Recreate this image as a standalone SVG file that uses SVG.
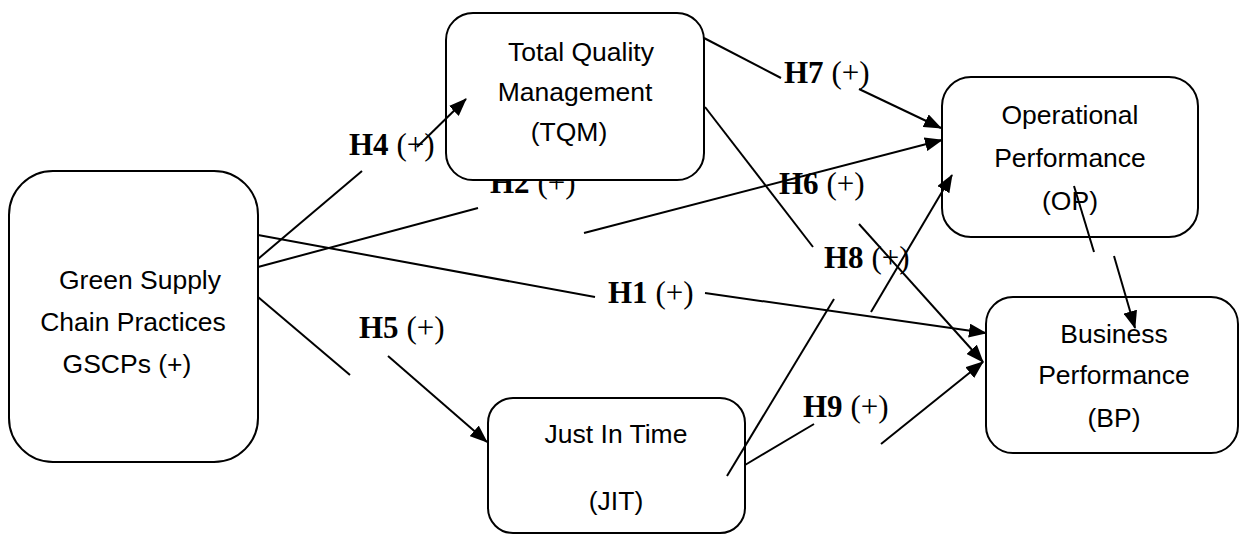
<svg xmlns="http://www.w3.org/2000/svg" width="1241" height="534" viewBox="0 0 1241 534">
<style>
.box{fill:#fff;stroke:#000;stroke-width:2}
.nt{font-family:"Liberation Sans",Arial,sans-serif;font-size:26.5px;fill:#000;text-anchor:middle}
.lb{font-family:"Liberation Serif","Times New Roman",serif;font-size:31px;fill:#000}
.lb .b{font-weight:bold}
.ln{stroke:#000;stroke-width:2;fill:none}
.ar{marker-end:url(#ah)}
</style>
<defs>
<marker id="ah" markerUnits="userSpaceOnUse" markerWidth="18" markerHeight="14" refX="17" refY="7" orient="auto">
<path d="M0,0 L18,7 L0,14 z" fill="#000"/>
</marker>
</defs>
<rect width="1241" height="534" fill="#fff"/>
<g id="labels">
<text class="lb" x="349" y="155"><tspan class="b">H4</tspan> (+)</text>
<text class="lb" x="490" y="193"><tspan class="b">H2</tspan> (+)</text>
<text class="lb" x="784" y="83"><tspan class="b">H7</tspan> (+)</text>
<text class="lb" x="779" y="194"><tspan class="b">H6</tspan> (+)</text>
<text class="lb" x="824" y="268"><tspan class="b">H8</tspan> (+)</text>
<text class="lb" x="608" y="303"><tspan class="b">H1</tspan> (+)</text>
<text class="lb" x="359" y="338"><tspan class="b">H5</tspan> (+)</text>
<text class="lb" x="803" y="417"><tspan class="b">H9</tspan> (+)</text>
</g>
<g id="gscp">
<rect class="box" x="9" y="171" width="249" height="291" rx="44"/>
<text class="nt" x="140" y="289">Green Supply</text>
<text class="nt" x="133" y="331">Chain Practices</text>
<text class="nt" x="127" y="373">GSCPs (+)</text>
</g>
<g id="tqm">
<rect class="box" x="446" y="13" width="258" height="167" rx="27"/>
<text class="nt" x="581" y="61">Total Quality</text>
<text class="nt" x="575" y="101">Management</text>
<text class="nt" x="569" y="141">(TQM)</text>
</g>
<g id="op">
<rect class="box" x="942" y="77" width="256" height="160" rx="29"/>
<text class="nt" x="1070" y="124">Operational</text>
<text class="nt" x="1070" y="167">Performance</text>
<text class="nt" x="1070" y="210">(OP)</text>
</g>
<g id="bp">
<rect class="box" x="986" y="297" width="252" height="156" rx="27"/>
<text class="nt" x="1114" y="343">Business</text>
<text class="nt" x="1114" y="384">Performance</text>
<text class="nt" x="1114" y="427">(BP)</text>
</g>
<g id="jit">
<rect class="box" x="488" y="398" width="257" height="135" rx="25"/>
<text class="nt" x="616" y="443">Just In Time</text>
<text class="nt" x="616" y="510">(JIT)</text>
</g>
<g id="connectors">
<line class="ln" x1="258" y1="259" x2="362" y2="171"/>
<line class="ln ar" x1="417" y1="147" x2="466" y2="99"/>
<line class="ln" x1="258" y1="267" x2="478" y2="208"/>
<line class="ln ar" x1="584" y1="233" x2="942" y2="140"/>
<line class="ln" x1="258" y1="235" x2="595" y2="297"/>
<line class="ln ar" x1="705" y1="293" x2="986" y2="333"/>
<line class="ln" x1="258" y1="297" x2="350" y2="375"/>
<line class="ln ar" x1="388" y1="356" x2="487" y2="442"/>
<line class="ln" x1="704" y1="38" x2="781" y2="78"/>
<line class="ln ar" x1="859" y1="89" x2="941" y2="128"/>
<line class="ln" x1="705" y1="107" x2="813" y2="247"/>
<line class="ln ar" x1="859" y1="224" x2="983" y2="362"/>
<line class="ln" x1="727" y1="476" x2="834" y2="299"/>
<line class="ln ar" x1="871" y1="312" x2="952" y2="175"/>
<line class="ln" x1="745" y1="465" x2="814" y2="424"/>
<line class="ln ar" x1="881" y1="444" x2="983" y2="362"/>
<line class="ln" x1="1074" y1="186" x2="1094" y2="252"/>
<line class="ln ar" x1="1114" y1="256" x2="1135" y2="328"/>
</g>
</svg>
